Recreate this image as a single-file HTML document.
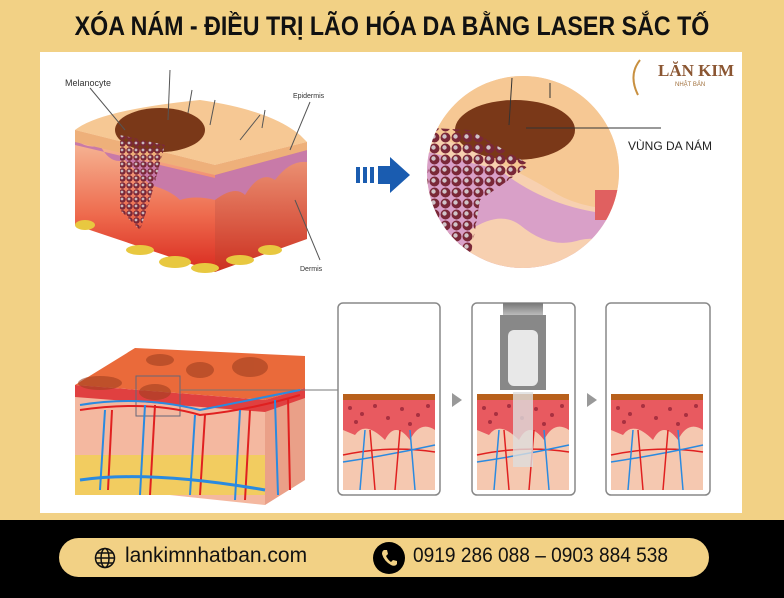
<!DOCTYPE html>
<html><head><meta charset="utf-8"><style>
html,body{margin:0;padding:0}
body{width:784px;height:598px;background:#f2d185;position:relative;overflow:hidden;font-family:"Liberation Sans",sans-serif}
.title{position:absolute;left:0;width:784px;top:11px;text-align:center}
.title span{display:inline-block;font-weight:bold;font-size:27px;color:#111;transform:scaleX(0.86);transform-origin:center;white-space:nowrap}
.panel{position:absolute;left:40px;top:52px;width:702px;height:461px;background:#fff}
.bar{position:absolute;left:0;top:520px;width:784px;height:78px;background:#000}
.pill{position:absolute;left:59px;top:538px;width:650px;height:39px;background:#f2d185;border-radius:20px}
.t{position:absolute;font-size:21px;color:#111;top:6px;transform-origin:left center;white-space:nowrap}
</style></head><body>
<div class="title"><span>XÓA NÁM - ĐIỀU TRỊ LÃO HÓA DA BẰNG LASER SẮC TỐ</span></div>
<div class="panel"></div>
<svg width="784" height="598" style="position:absolute;left:0;top:0">
<defs>
<linearGradient id="fr" x1="0" y1="0" x2="0" y2="1"><stop offset="0" stop-color="#f7c1a0"/><stop offset="0.6" stop-color="#ee6a4d"/><stop offset="1" stop-color="#d92a1f"/></linearGradient>
<linearGradient id="rt" x1="0" y1="0" x2="0" y2="1"><stop offset="0" stop-color="#f0a080"/><stop offset="1" stop-color="#cc3020"/></linearGradient>
<linearGradient id="las" x1="0" y1="0" x2="0" y2="1"><stop offset="0" stop-color="#777"/><stop offset="1" stop-color="#bbb"/></linearGradient>
<pattern id="dots" width="7" height="7" patternUnits="userSpaceOnUse"><circle cx="3.5" cy="3.5" r="3.2" fill="#7a2838"/><circle cx="3" cy="3" r="1.4" fill="#c8b8bc"/></pattern>
<pattern id="dots2" width="11" height="11" patternUnits="userSpaceOnUse"><circle cx="5.5" cy="5.5" r="5" fill="#7a2838"/><circle cx="4.5" cy="4.5" r="2.2" fill="#d0c4c8"/></pattern>
<clipPath id="cc"><circle cx="523" cy="172" r="96"/></clipPath>
</defs>
<polygon points="75,130 215,165 215,272 75,225" fill="url(#fr)"/>
<polygon points="215,165 307,142 307,239 215,272" fill="url(#rt)"/>
<path d="M75,140 Q90,150 100,145 Q110,165 125,160 Q140,175 150,185 Q170,190 180,200 Q195,195 215,200 L215,178 L75,145Z" fill="#c87aa8"/>
<path d="M215,200 Q235,185 245,195 Q260,170 275,180 Q290,160 307,162 L307,150 L215,175Z" fill="#c87aa8"/>
<path d="M75,130 Q100,110 200,100 Q270,110 300,135 L307,142 L215,165 Z" fill="#f6c894"/>
<path d="M75,130 L215,165 L307,142 L307,150 L215,175 L75,142Z" fill="#eeb07a"/>
<ellipse cx="160" cy="130" rx="45" ry="22" fill="#7a3818"/>
<polygon points="120,135 165,145 150,200 140,230 120,210" fill="url(#dots)"/>
<g stroke="#555" stroke-width="1"><line x1="170" y1="70" x2="168" y2="120"/><line x1="192" y1="90" x2="188" y2="113"/><line x1="215" y1="100" x2="210" y2="125"/><line x1="260" y1="115" x2="240" y2="140"/><line x1="265" y1="110" x2="262" y2="128"/><line x1="90" y1="88" x2="125" y2="130"/><line x1="310" y1="102" x2="290" y2="150"/><line x1="295" y1="200" x2="320" y2="260"/></g>
<g fill="#e8c840"><ellipse cx="85" cy="225" rx="10" ry="5"/><ellipse cx="140" cy="250" rx="14" ry="5"/><ellipse cx="175" cy="262" rx="16" ry="6"/><ellipse cx="205" cy="268" rx="14" ry="5"/><ellipse cx="240" cy="260" rx="14" ry="5"/><ellipse cx="270" cy="250" rx="12" ry="5"/></g>
<text x="65" y="86" font-size="9" fill="#333">Melanocyte</text>
<text x="293" y="98" font-size="7" fill="#333">Epidermis</text>
<text x="300" y="271" font-size="7" fill="#333">Dermis</text>
<g fill="#1a5cb0"><rect x="356" y="167" width="4" height="16"/><rect x="363" y="167" width="4" height="16"/><rect x="370" y="167" width="4" height="16"/><polygon points="378,166 390,166 390,157 410,175 390,193 390,184 378,184"/></g>
<g clip-path="url(#cc)">
<rect x="420" y="70" width="210" height="210" fill="#f7d0b0"/>
<path d="M420,150 L500,170 Q550,210 620,215 L620,280 L420,280Z" fill="#d9a0c8"/>
<path d="M470,230 Q500,210 520,225 Q550,250 580,240 Q600,235 620,250 L620,280 L470,280Z" fill="#f7d0b0"/>
<path d="M420,70 L630,70 L630,210 Q580,210 550,190 Q500,160 420,130Z" fill="#f6c894"/>
<ellipse cx="515" cy="130" rx="60" ry="30" fill="#7a3818"/>
<polygon points="432,128 470,130 530,165 480,200 470,260 440,250 425,200" fill="url(#dots2)"/>
<rect x="595" y="190" width="30" height="30" fill="#e06060"/>
</g>
<g stroke="#333" stroke-width="1"><line x1="526" y1="128" x2="661" y2="128"/><line x1="512" y1="78" x2="509" y2="125"/><line x1="550" y1="83" x2="550" y2="98"/></g>
<text x="628" y="150" font-size="12" fill="#222">VÙNG DA NÁM</text>
<text x="658" y="76" font-size="17" font-weight="bold" fill="#8b5632" font-family="Liberation Serif,serif">LĂN KIM</text>
<text x="675" y="86" font-size="6" fill="#a0703c">NHẬT BẢN</text>
<path d="M640,60 Q628,75 638,95" stroke="#c89040" stroke-width="2" fill="none"/>
<polygon points="75,385 135,348 305,356 305,388 265,400" fill="#ea6a3a"/>
<polygon points="75,385 265,400 265,505 75,485" fill="#f4b8a0"/>
<polygon points="265,400 305,388 305,480 265,505" fill="#eaa088"/>
<polygon points="75,385 265,400 305,388 305,398 265,412 75,397" fill="#e04040"/>
<rect x="75" y="455" width="190" height="40" fill="#f2cc60"/>
<g fill="#a04020" opacity="0.6"><ellipse cx="100" cy="383" rx="22" ry="7"/><ellipse cx="155" cy="392" rx="16" ry="8"/><ellipse cx="200" cy="370" rx="14" ry="8"/><ellipse cx="250" cy="367" rx="18" ry="10"/><ellipse cx="160" cy="360" rx="14" ry="6"/></g>
<rect x="136" y="376" width="44" height="40" fill="none" stroke="#667" stroke-width="1"/>
<line x1="180" y1="390" x2="338" y2="390" stroke="#777" stroke-width="1"/>
<g fill="none" stroke-width="2"><path d="M80,410 Q150,400 200,415 Q250,410 300,395" stroke="#e02020"/><path d="M80,405 Q140,395 200,410 Q250,400 300,390" stroke="#2a8ae0"/><path d="M105,410 L100,490 M145,405 L140,495 M195,415 L190,495 M240,410 L235,500 M275,400 L278,495" stroke="#2a8ae0"/><path d="M112,410 L108,490 M155,405 L150,495 M205,415 L200,495 M250,410 L245,500 M288,398 L290,490" stroke="#e02020"/><path d="M80,480 Q150,470 265,490" stroke="#2a8ae0" stroke-width="3"/></g>
<g stroke="#888" stroke-width="1.5" fill="#fff">
<rect x="338" y="303" width="102" height="192" rx="5"/><rect x="472" y="303" width="103" height="192" rx="5"/><rect x="606" y="303" width="104" height="192" rx="5"/></g>
<g id="sk">
<rect x="343" y="394" width="92" height="6" fill="#b8601c"/>
<rect x="343" y="400" width="92" height="90" fill="#f5c8b0"/>
<path d="M343,400 L435,400 L435,430 Q420,420 410,440 Q395,420 385,440 Q365,420 355,435 L343,430Z" fill="#e85a60"/>
<g fill="#a83040"><circle cx="350" cy="408" r="2"/><circle cx="362" cy="414" r="2"/><circle cx="375" cy="406" r="2"/><circle cx="388" cy="418" r="2"/><circle cx="402" cy="409" r="2"/><circle cx="418" cy="415" r="2"/><circle cx="428" cy="406" r="2"/><circle cx="356" cy="422" r="2"/><circle cx="410" cy="424" r="2"/></g>
<g fill="none" stroke-width="1.5"><path d="M343,455 Q390,445 435,452" stroke="#e02020"/><path d="M343,462 Q390,455 435,445" stroke="#2a8ae0"/><path d="M365,430 L360,490 M410,430 L415,490" stroke="#2a8ae0"/><path d="M370,430 L375,490 M400,430 L395,490" stroke="#e02020"/></g>
</g>
<use href="#sk" x="134"/><use href="#sk" x="268"/>
<rect x="503" y="303" width="40" height="12" fill="url(#las)"/>
<path d="M500,315 L546,315 L546,390 L500,390Z" fill="#888"/>
<rect x="508" y="330" width="30" height="56" rx="6" fill="#e8e8e8"/>
<rect x="513" y="392" width="20" height="75" fill="#ddd" opacity="0.8"/>
<g fill="#999"><polygon points="452,393 462,400 452,407"/><polygon points="587,393 597,400 587,407"/></g>
</svg>
<div class="bar"></div>
<div class="pill">
<svg width="22" height="22" style="position:absolute;left:35px;top:9px"><g fill="none" stroke="#111" stroke-width="1.5"><circle cx="11" cy="11" r="9.5"/><ellipse cx="11" cy="11" rx="4" ry="9.5"/><line x1="1.5" y1="11" x2="20.5" y2="11"/><line x1="3" y1="6" x2="19" y2="6"/><line x1="3" y1="16" x2="19" y2="16"/></g></svg>
<div class="t" style="left:66px">lankimnhatban.com</div>
<svg width="32" height="32" style="position:absolute;left:314px;top:4px"><circle cx="16" cy="16" r="16" fill="#000"/><path d="M11,8 L14,8 L15,12 L13,14 Q15,18 18,20 L20,18 L24,19 L24,22 Q22,25 18,23 Q11,19 9,12 Q9,9 11,8Z" fill="#f2d185"/></svg>
<div class="t" style="left:354px;transform:scaleX(0.91)">0919 286 088 – 0903 884 538</div>
</div>
</body></html>
